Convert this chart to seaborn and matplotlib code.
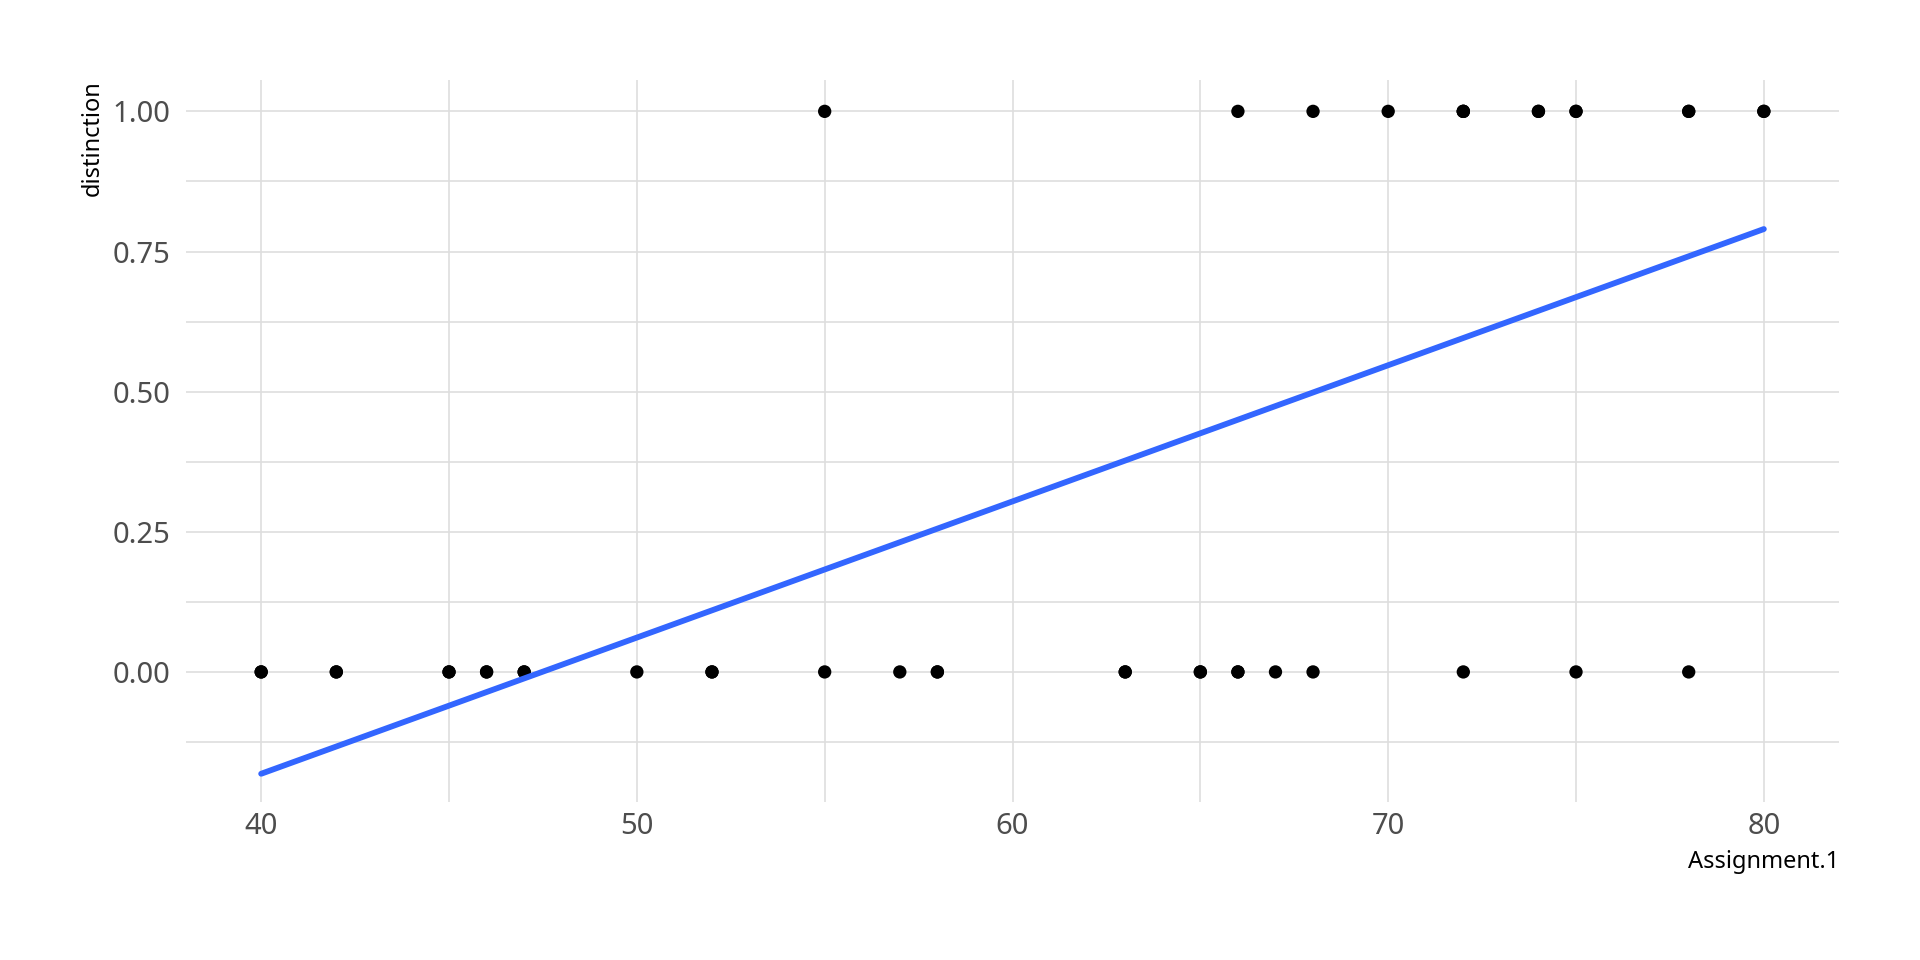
import numpy as np
import pandas as pd
import matplotlib
matplotlib.use("Agg")
import matplotlib.pyplot as plt
import seaborn as sns

# Data (overlapping points included as duplicates)
assign_dist = [55, 66, 68, 70, 72, 72, 72, 74, 74, 75, 75, 78, 78, 80, 80]
assign_nodist = [40, 40, 42, 42, 45, 45, 46, 46, 47, 47, 50, 52, 52, 55, 57,
                 58, 58, 63, 63, 65, 65, 66, 66, 67, 68, 72, 75, 78]

x_major = [40, 50, 60, 70, 80]
x_minor = [45, 55, 65, 75]
y_major = [0.0, 0.25, 0.50, 0.75, 1.00]
y_minor = [-0.125, 0.125, 0.375, 0.625, 0.875]
y_labels = ["0.00", "0.25", "0.50", "0.75", "1.00"]

df = pd.DataFrame({
    "Assignment.1": assign_dist + assign_nodist,
    "distinction": [1] * len(assign_dist) + [0] * len(assign_nodist),
})

sns.set_theme(style="white")
plt.rcParams["font.family"] = ["Noto Sans", "DejaVu Sans"]

fig = plt.figure(figsize=(19.2, 9.6), dpi=100)
ax = fig.add_axes([0.0969, 0.1646, 0.9578 - 0.0969, 0.9167 - 0.1646])

grid_c = "#dedede"
for v in x_major + x_minor:
    ax.axvline(v, color=grid_c, lw=1.2, zorder=0)
for v in y_major + y_minor:
    ax.axhline(v, color=grid_c, lw=1.2, zorder=0)

sns.scatterplot(data=df, x="Assignment.1", y="distinction", ax=ax,
                color="black", s=92, edgecolor="none", linewidth=0, zorder=3)
sns.regplot(data=df, x="Assignment.1", y="distinction", ax=ax,
            scatter=False, ci=None, truncate=True,
            line_kws=dict(color="#3366FF", lw=4.2, zorder=4))

ax.set_xlim(38, 82)
ax.set_ylim(-0.232, 1.056)
ax.set_xticks(x_major)
ax.set_xticklabels([str(v) for v in x_major])
ax.set_yticks(y_major)
ax.set_yticklabels(y_labels)

for s in ax.spines.values():
    s.set_visible(False)

ax.tick_params(axis="both", length=0, labelsize=21, labelcolor="#4d4d4d")
ax.tick_params(axis="x", pad=7)
ax.tick_params(axis="y", pad=11.5)

ax.set_xlabel("Assignment.1", fontsize=17, color="black", loc="right")
ax.set_ylabel("distinction", fontsize=17, color="black", loc="top")
ax.xaxis.set_label_coords(1.0, -0.066)
ax.yaxis.set_label_coords(-0.049, 1.0)

fig.savefig("out.png", dpi=100, facecolor="white")
